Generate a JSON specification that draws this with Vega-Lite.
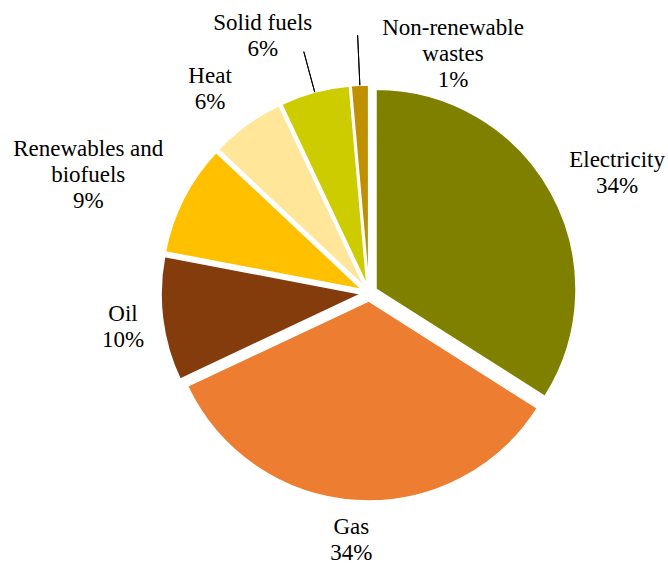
{
  "$schema": "https://vega.github.io/schema/vega-lite/v6.json",
  "width": 598,
  "height": 542,
  "padding": {"left": 70, "top": 22, "right": 0, "bottom": 0},
  "autosize": {"type": "none"},
  "background": "white",
  "config": {"view": {"stroke": null}},
  "data": {"values": [
    {"rank": 1, "category": "Electricity", "value": 34, "label": "Electricity\n34%"},
    {"rank": 2, "category": "Gas", "value": 34, "label": "Gas\n34%"},
    {"rank": 3, "category": "Oil", "value": 10, "label": "Oil\n10%"},
    {"rank": 4, "category": "Renewables and biofuels", "value": 9, "label": "Renewables and\nbiofuels\n9%"},
    {"rank": 5, "category": "Heat", "value": 6, "label": "Heat\n6%"},
    {"rank": 6, "category": "Solid fuels", "value": 5.6, "label": "Solid fuels\n6%"},
    {"rank": 7, "category": "Non-renewable wastes", "value": 1.4, "label": "Non-renewable\nwastes\n1%"}
  ]},
  "encoding": {
    "theta": {"field": "value", "type": "quantitative", "stack": true},
    "order": {"field": "rank", "type": "quantitative"}
  },
  "layer": [
    {
      "mark": {"type": "arc", "radius": 200, "stroke": "white", "strokeWidth": 1.5,
        "xOffset": {"expr": "8*sin(PI*(datum.value_start+datum.value_end)/100)"},
        "yOffset": {"expr": "-8*cos(PI*(datum.value_start+datum.value_end)/100)"}},
      "encoding": {
        "color": {"field": "category", "type": "nominal", "legend": null,
          "scale": {"domain": ["Electricity", "Gas", "Oil", "Renewables and biofuels", "Heat", "Solid fuels", "Non-renewable wastes"],
                    "range": ["#808000", "#ED7D31", "#843C0C", "#FFC000", "#FFE699", "#CCCC00", "#BF9000"]}}
      }
    },
    {
      "mark": {"type": "arc", "radius": 250, "radius2": 208, "padAngle": 1, "fill": null, "strokeWidth": 1},
      "encoding": {
        "stroke": {"condition": {"test": "datum.category === 'Solid fuels'", "value": "black"}, "value": "transparent"}
      }
    },
    {
      "mark": {"type": "arc", "radius": 258, "radius2": 208, "padAngle": 1, "fill": null, "strokeWidth": 1},
      "encoding": {
        "stroke": {"condition": {"test": "datum.category === 'Non-renewable wastes'", "value": "black"}, "value": "transparent"}
      }
    },
    {"mark": {"type": "text", "font": "Liberation Serif, DejaVu Serif, serif", "fontSize": 23, "lineHeight": 26, "color": "black", "radius": 250, "dx": 29, "dy": -13, "lineBreak": "\n", "baseline": "middle", "align": "center"},
     "encoding": {"text": {"condition": {"test": "datum.category === 'Electricity'", "field": "label"}, "value": ""}}},
    {"mark": {"type": "text", "font": "Liberation Serif, DejaVu Serif, serif", "fontSize": 23, "lineHeight": 26, "color": "black", "radius": 250, "dx": -2, "dy": -16, "lineBreak": "\n", "baseline": "middle", "align": "center"},
     "encoding": {"text": {"condition": {"test": "datum.category === 'Gas'", "field": "label"}, "value": ""}}},
    {"mark": {"type": "text", "font": "Liberation Serif, DejaVu Serif, serif", "fontSize": 23, "lineHeight": 26, "color": "black", "radius": 250, "dx": 2, "dy": -10, "lineBreak": "\n", "baseline": "middle", "align": "center"},
     "encoding": {"text": {"condition": {"test": "datum.category === 'Oil'", "field": "label"}, "value": ""}}},
    {"mark": {"type": "text", "font": "Liberation Serif, DejaVu Serif, serif", "fontSize": 23, "lineHeight": 26, "color": "black", "radius": 250, "dx": -58, "dy": -31, "lineBreak": "\n", "baseline": "middle", "align": "center"},
     "encoding": {"text": {"condition": {"test": "datum.category === 'Renewables and biofuels'", "field": "label"}, "value": ""}}},
    {"mark": {"type": "text", "font": "Liberation Serif, DejaVu Serif, serif", "fontSize": 23, "lineHeight": 26, "color": "black", "radius": 250, "dx": -12, "dy": -15, "lineBreak": "\n", "baseline": "middle", "align": "center"},
     "encoding": {"text": {"condition": {"test": "datum.category === 'Heat'", "field": "label"}, "value": ""}}},
    {"mark": {"type": "text", "font": "Liberation Serif, DejaVu Serif, serif", "fontSize": 23, "lineHeight": 26, "color": "black", "radius": 250, "dx": -41, "dy": -29, "lineBreak": "\n", "baseline": "middle", "align": "center"},
     "encoding": {"text": {"condition": {"test": "datum.category === 'Solid fuels'", "field": "label"}, "value": ""}}},
    {"mark": {"type": "text", "font": "Liberation Serif, DejaVu Serif, serif", "fontSize": 23, "lineHeight": 26, "color": "black", "radius": 250, "dx": 95, "dy": -15, "lineBreak": "\n", "baseline": "middle", "align": "center"},
     "encoding": {"text": {"condition": {"test": "datum.category === 'Non-renewable wastes'", "field": "label"}, "value": ""}}}
  ]
}
